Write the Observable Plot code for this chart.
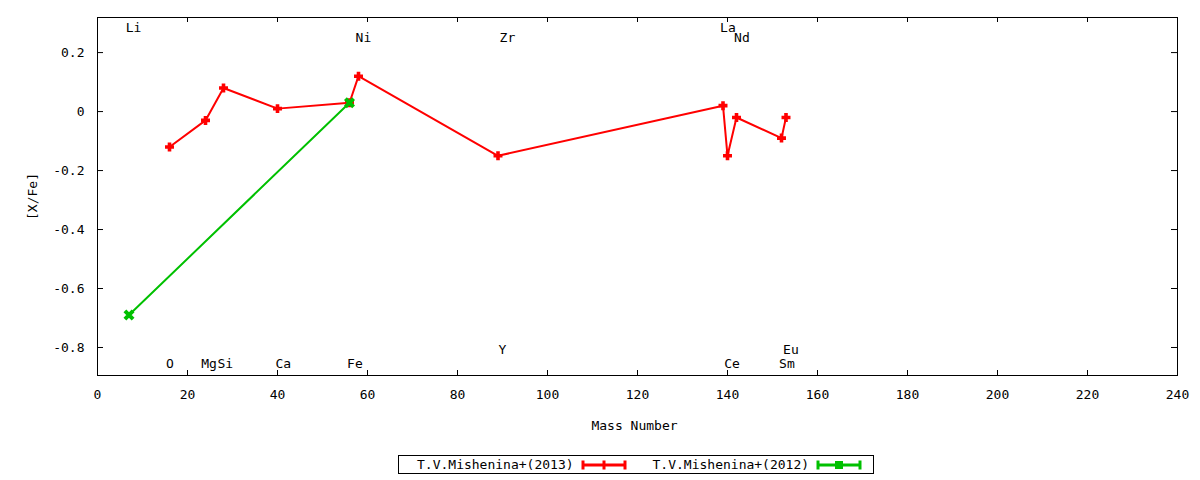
<!DOCTYPE html>
<html>
<head>
<meta charset="utf-8">
<script src="https://cdn.jsdelivr.net/npm/d3@7"></script>
<script src="https://cdn.jsdelivr.net/npm/@observablehq/plot@0.6"></script>
<style>
  html, body { margin: 0; padding: 0; background: #fff; }
  body { width: 1200px; height: 480px; overflow: hidden; font-family: "DejaVu Sans Mono", monospace; }
  #legend {
    position: absolute; left: 398px; top: 455px; width: 474px; height: 17px;
    border: 1px solid #000; display: flex; align-items: center;
    font: 13px "DejaVu Sans Mono", monospace; color: #000; box-sizing: content-box;
  }
  #legend span { white-space: pre; }
  #legend svg { display: block; }
</style>
</head>
<body>
<div id="chart"></div>
<div id="legend"></div>
<script>
// ---- data ----
const mass2013 = [16, 24, 28, 40, 56, 58, 89, 139, 140, 142, 152, 153];
const xfe2013  = [-0.12, -0.03, 0.08, 0.01, 0.03, 0.12, -0.15, 0.02, -0.15, -0.02, -0.09, -0.02];
const mass2012 = [7, 56];
const xfe2012  = [-0.69, 0.03];

const elemNames = ["Li", "O", "Mg", "Si", "Ca", "Fe", "Ni", "Y", "Zr", "La", "Ce", "Nd", "Sm", "Eu"];
const elemLabelX = [8, 16.1, 24.8, 28.4, 41.3, 57.2, 59.1, 90, 91.1, 140.1, 141, 143.2, 153.2, 154.1];
const elemLabelY = [0.283, -0.855, -0.855, -0.855, -0.855, -0.855, 0.249, -0.808, 0.249, 0.283, -0.855, 0.249, -0.855, -0.808];

const xTicks = [0, 20, 40, 60, 80, 100, 120, 140, 160, 180, 200, 220, 240];
const yTicks = [-0.8, -0.6, -0.4, -0.2, 0, 0.2];

const seriesNames = ["T.V.Mishenina+(2013)", "T.V.Mishenina+(2012)"];
const seriesColors = ["#ff0000", "#00c000"];

// ---- tables ----
const d2013 = mass2013.map((m, i) => ({m, v: xfe2013[i]}));
const d2012 = mass2012.map((m, i) => ({m, v: xfe2012[i]}));
const labels = elemNames.map((n, i) => ({n, x: elemLabelX[i], y: elemLabelY[i]}));

const W = 1200, H = 450;
const mTop = 17, mLeft = 97, mRight = 23, mBottom = 75;
const innerW = W - mLeft - mRight, innerH = H - mTop - mBottom;
const font = "DejaVu Sans Mono";

const chart = Plot.plot({
  width: W, height: H,
  marginTop: mTop, marginLeft: mLeft, marginRight: mRight, marginBottom: mBottom,
  style: {fontFamily: font, fontSize: "13px", color: "#000", background: "#fff", overflow: "visible"},
  x: {domain: [0, 240]},
  y: {domain: [-0.895, 0.319]},
  marks: [
    Plot.frame({stroke: "#000", strokeWidth: 1}),
    // inward ticks on all four sides
    Plot.tickX(xTicks, {x: d => d, insetTop: innerH - 5, stroke: "#000"}),
    Plot.tickX(xTicks, {x: d => d, insetBottom: innerH - 5, stroke: "#000"}),
    Plot.tickY(yTicks, {y: d => d, insetRight: innerW - 6, stroke: "#000"}),
    Plot.tickY(yTicks, {y: d => d, insetLeft: innerW - 6, stroke: "#000"}),
    Plot.axisX({ticks: xTicks, tickSize: 0, tickPadding: 14, tickFormat: d => String(d), label: null, fontSize: 13}),
    Plot.axisY({ticks: yTicks, tickSize: 0, tickPadding: 13, tickFormat: d => String(d), label: null, fontSize: 13}),
    Plot.text(["Mass Number"], {frameAnchor: "bottom", dy: 50, dx: -3, lineAnchor: "middle", fontSize: 13}),
    Plot.text(["[X/Fe]"], {frameAnchor: "left", dx: -65, rotate: -90, lineAnchor: "middle", textAnchor: "middle", fontSize: 13}),
    // element labels
    Plot.text(labels, {x: "x", y: "y", text: "n", lineAnchor: "middle", fontSize: 13}),
    // series
    Plot.line(d2013, {x: "m", y: "v", stroke: seriesColors[0], strokeWidth: 2}),
    Plot.dot(d2013, {x: "m", y: "v", symbol: "plus", r: 3, stroke: seriesColors[0], strokeWidth: 3.6}),
    Plot.line(d2012, {x: "m", y: "v", stroke: seriesColors[1], strokeWidth: 2}),
    Plot.dot(d2012, {x: "m", y: "v", symbol: "times", r: 3.8, stroke: seriesColors[1], strokeWidth: 4})
  ]
});
document.getElementById("chart").appendChild(chart);

// ---- legend ----
function sample(color, symbol) {
  const ns = "http://www.w3.org/2000/svg";
  const s = document.createElementNS(ns, "svg");
  s.setAttribute("width", 46); s.setAttribute("height", 12);
  const add = (tag, attrs) => { const e = document.createElementNS(ns, tag); for (const k in attrs) e.setAttribute(k, attrs[k]); s.appendChild(e); };
  add("line", {x1: 2, x2: 44, y1: 6, y2: 6, stroke: color, "stroke-width": 3});
  add("line", {x1: 2, x2: 2, y1: 1.5, y2: 10.5, stroke: color, "stroke-width": 3});
  add("line", {x1: 44, x2: 44, y1: 1.5, y2: 10.5, stroke: color, "stroke-width": 3});
  if (symbol === "plus") {
    add("line", {x1: 23, x2: 23, y1: 1.5, y2: 10.5, stroke: color, "stroke-width": 3});
  } else {
    add("rect", {x: 19, y: 2, width: 8, height: 8, fill: color});
  }
  return s;
}
const lg = document.getElementById("legend");
const gaps = ["18px", "26px"];
seriesNames.forEach((name, i) => {
  const t = document.createElement("span");
  t.textContent = name;
  t.style.marginLeft = gaps[i];
  t.style.marginRight = "7px";
  lg.appendChild(t);
  lg.appendChild(sample(seriesColors[i], i === 0 ? "plus" : "times"));
});
</script>
</body>
</html>
